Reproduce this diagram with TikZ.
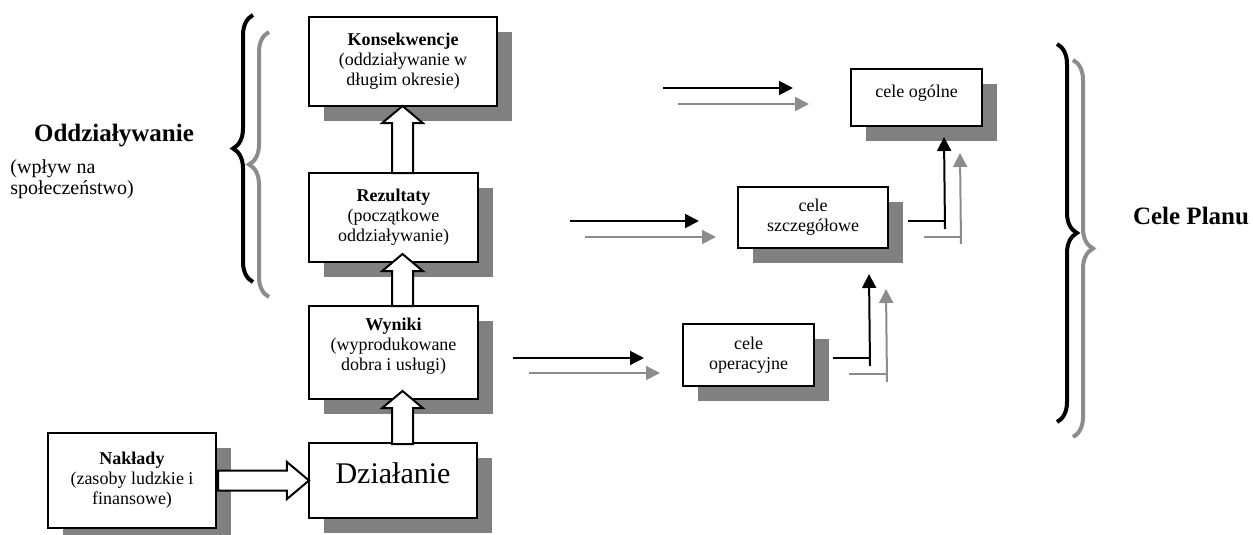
\documentclass[tikz,border=0pt]{standalone}
\usepackage{fontspec}
\setmainfont{Liberation Serif}
\usepackage{tikz}
\usetikzlibrary{arrows.meta,calc,decorations.pathreplacing,shadows,shapes.arrows}

\definecolor{shadowgray}{RGB}{128,128,128}
\definecolor{linegray}{RGB}{140,140,140}

\tikzset{
  box/.style={draw, line width=1pt, fill=white, align=center, inner sep=1pt,
    font=\fontsize{9}{10}\selectfont,
    drop shadow={shadow xshift=7.5pt, shadow yshift=-7.5pt, fill=shadowgray, opacity=1}},
  hollow/.style={single arrow, draw, line width=1pt, fill=white, inner sep=0pt,
    text height=9.5pt, text depth=0pt, single arrow head extend=5pt, single arrow tip angle=100},
  horiz/.style={text height=9pt, single arrow head extend=4.25pt, single arrow tip angle=80},
  blk/.style={line width=1pt, -{Triangle[length=7pt,width=7pt]}},
  gry/.style={blk, linegray},
  bigbrace/.style={decorate, decoration={brace, amplitude=10pt}, line width=2pt},
}

\newcommand\hollowarrow[3][]{%
  \path let \p1=(#2), \p2=(#3), \n1={veclen(\x2-\x1,\y2-\y1)}, \n2={atan2(\y2-\y1,\x2-\x1)} in
    node[hollow, #1, minimum height=\n1, rotate=\n2, anchor=tail] at (\p1) {};}

\begin{document}
\begin{tikzpicture}[x=0.5pt, y=-0.5pt]
\useasboundingbox (0,0) rectangle (1253,535);

\node[font=\fontsize{12.5}{15}\selectfont\bfseries] (oddz) at (114,136) {Oddziaływanie};
\node[font=\fontsize{10}{10.5}\selectfont, align=left, anchor=north west, inner sep=0pt] (oddzsub) at (10,159) {(wpływ na\\społeczeństwo)};
\node[font=\fontsize{12.5}{15}\selectfont\bfseries] (plan) at (1191,216) {Cele Planu};

\node[box, minimum width=94pt, minimum height=44.5pt] (kons) at (403,61.5) {\textbf{Konsekwencje}\\(oddziaływanie w\\długim okresie)};
\node[box, minimum width=84.5pt, minimum height=44.5pt] (rez) at (393.5,217.5) {\textbf{Rezultaty}\\(początkowe\\oddziaływanie)};
\node[box, minimum width=84.5pt, minimum height=46.5pt, text depth=8.5pt] (wyn) at (393.5,352.5) {\textbf{Wyniki}\\(wyprodukowane\\dobra i usługi)};
\node[box, minimum width=84pt, minimum height=37.5pt, text depth=7pt, font=\fontsize{15}{18}\selectfont] (dzial) at (393,480.5) {Działanie};
\node[box, minimum width=84pt, minimum height=47.5pt] (nakl) at (132,480.5) {\textbf{Nakłady}\\(zasoby ludzkie i\\finansowe)};

\node[box, minimum width=65.5pt, minimum height=28.5pt, text depth=6.5pt] (ogolne) at (916.5,97.5) {cele ogólne};
\node[box, minimum width=75pt, minimum height=30.5pt] (szcz) at (813,217.5) {cele\\szczegółowe};
\node[box, minimum width=65.5pt, minimum height=31pt] (oper) at (748.5,355) {cele\\operacyjne};

\hollowarrow[horiz]{nakl.east}{dzial.west}
\hollowarrow{[shift={(9.5,3)}]dzial.north}{[shift={(9,-8)}]wyn.south}
\hollowarrow{[shift={(9,2)}]wyn.north}{[shift={(9,-8)}]rez.south}
\hollowarrow{[shift={(9,2)}]rez.north}{[shift={(-0.5,0)}]kons.south}

\draw[blk] ([shift={(-187,-9.5)}]ogolne.west) -- ([shift={(-57,-9.5)}]ogolne.west);
\draw[gry] ([shift={(-172,6.5)}]ogolne.west) -- ([shift={(-41,6.5)}]ogolne.west);
\draw[blk] ([shift={(-167,3.5)}]szcz.west) -- ([shift={(-38,3.5)}]szcz.west);
\draw[gry] ([shift={(-152,19.5)}]szcz.west) -- ([shift={(-21,19.5)}]szcz.west);
\draw[blk] ([shift={(-169,3)}]oper.west) -- ([shift={(-38,3)}]oper.west);
\draw[gry] ([shift={(-153,18)}]oper.west) -- ([shift={(-22,18)}]oper.west);

\draw[line width=1pt] ([shift={(18,3)}]oper.east) -- ([shift={(55,3)}]oper.east);
\draw[blk] ([shift={(55,11)}]oper.east) -- ([shift={(56,25)}]szcz.south);
\draw[line width=1pt, linegray] ([shift={(34,19)}]oper.east) -- ([shift={(72,19)}]oper.east);
\draw[gry] ([shift={(72,27)}]oper.east) -- ([shift={(73,40)}]szcz.south);
\draw[line width=1pt] ([shift={(19,3.5)}]szcz.east) -- ([shift={(56,3.5)}]szcz.east);
\draw[blk] ([shift={(56,11.5)}]szcz.east) -- ([shift={(27.5,10)}]ogolne.south);
\draw[line width=1pt, linegray] ([shift={(35,19.5)}]szcz.east) -- ([shift={(72,19.5)}]szcz.east);
\draw[gry] ([shift={(72,26.5)}]szcz.east) -- ([shift={(43.5,26)}]ogolne.south);

\draw[bigbrace] (253,282) -- (253,15);
\draw[bigbrace, linegray] (269,297) -- (269,32);
\draw[bigbrace] (1057,44) -- (1057,422);
\draw[bigbrace, linegray] (1073,60) -- (1073,437);
\end{tikzpicture}
\end{document}
